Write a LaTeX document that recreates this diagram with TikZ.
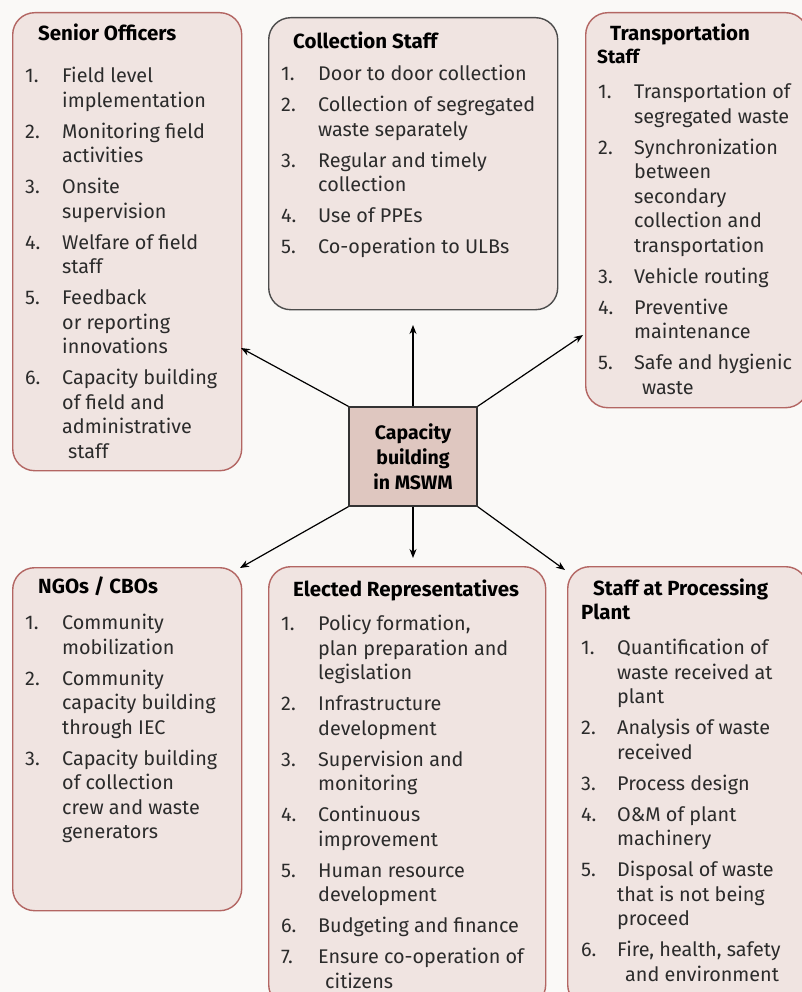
\documentclass[tikz,border=0pt]{standalone}
\usepackage{fontspec}
\setmainfont{Fira Sans}
\usetikzlibrary{arrows.meta}

\definecolor{boxfill}{HTML}{F0E4E1}
\definecolor{boxline}{HTML}{B36663}
\definecolor{hubfill}{HTML}{DFC7C0}
\definecolor{ink}{HTML}{2B2B2B}
\definecolor{paper}{HTML}{FAF9F7}

\tikzset{
  card/.style={draw=boxline, fill=boxfill, line width=1.4pt, rounded corners=22pt,
    anchor=north west, inner sep=0pt},
  hubbox/.style={draw=black!80, fill=hubfill, line width=1.4pt, inner sep=0pt,
    minimum width=128pt, minimum height=99pt, align=center,
    font=\fontsize{19.5}{25}\selectfont\bfseries},
  head/.style={anchor=base west, inner sep=0pt, font=\fontsize{20.5}{24}\selectfont\bfseries},
  items/.style={anchor=north west, inner sep=0pt, text=ink, font=\fontsize{19.8}{24.5}\selectfont},
  link/.style={-{Stealth[length=9pt,width=7pt]}, line width=1.2pt}
}
\newcommand{\itemgap}{\\[6.5pt]}

\begin{document}
\begin{tikzpicture}[x=1pt,y=-1pt]
  \fill[paper] (0,0) rectangle (802,992);
  \useasboundingbox (0,0) rectangle (802,992);

  % boxes
  \node[card, minimum width=229pt, minimum height=458pt] (senior) at (12,12) {};
  \node[card, draw=black!70, minimum width=289pt, minimum height=292pt] (collection) at (268,17) {};
  \node[card, minimum width=222pt, minimum height=395pt] (transport) at (585,12) {};
  \node[card, minimum width=229pt, minimum height=343pt] (ngo) at (12,567) {};
  \node[card, minimum width=277pt, minimum height=440pt] (elected) at (268,566) {};
  \node[card, minimum width=240pt, minimum height=440pt] (plant) at (567,566) {};
  \node[hubbox] (hub) at (413,456.5) {Capacity\\building\\in MSWM};

  % headings
  \node[head] (seniorhead) at (38,41) {Senior Officers};
  \node[head] (collectionhead) at (293,48.5) {Collection Staff};
  \node[head] (transporthead) at (610,41) {Transportation};
  \node[head, font=\fontsize{19}{24}\selectfont\bfseries] (transporthead2) at (597,63.5) {Staff};
  \node[head] (ngohead) at (38,593.5) {NGOs / CBOs};
  \node[head] (electedhead) at (293,596.5) {Elected Representatives};
  \node[head] (planthead) at (593,595.5) {Staff at Processing};
  \node[head] (planthead2) at (581,619.5) {Plant};

  % lists
  \node[items] (seniorlist) at (25,65.5) {\begin{tabular}{@{}p{37pt}@{}l@{}}
    1. & Field level\\ & implementation\itemgap
    2. & Monitoring field\\ & activities\itemgap
    3. & Onsite\\ & supervision\itemgap
    4. & Welfare of field\\ & staff\itemgap
    5. & Feedback\\ & or reporting\\ & innovations\itemgap
    6. & Capacity building\\ & of field and\\ & administrative\\ & \hspace{6pt}staff
  \end{tabular}};
  \node[items] (collectionlist) at (281,63.5) {\begin{tabular}{@{}p{37pt}@{}l@{}}
    1. & Door to door collection\itemgap
    2. & Collection of segregated\\ & waste separately\itemgap
    3. & Regular and timely\\ & collection\itemgap
    4. & Use of PPEs\itemgap
    5. & Co-operation to ULBs
  \end{tabular}};
  \node[items] (transportlist) at (598,81.5) {\begin{tabular}{@{}p{36pt}@{}l@{}}
    1. & Transportation of\\ & segregated waste\itemgap
    2. & Synchronization\\ & between\\ & secondary\\ & collection and\\ & transportation\itemgap
    3. & Vehicle routing\itemgap
    4. & Preventive\\ & maintenance\itemgap
    5. & Safe and hygienic\\ & \hspace{8pt}waste
  \end{tabular}};
  \node[items] (ngolist) at (25,612.5) {\begin{tabular}{@{}p{37pt}@{}l@{}}
    1. & Community\\ & mobilization\itemgap
    2. & Community\\ & capacity building\\ & through IEC\itemgap
    3. & Capacity building\\ & of collection\\ & crew and waste\\ & generators
  \end{tabular}};
  \node[items] (electedlist) at (281,613.5) {\begin{tabular}{@{}p{37pt}@{}l@{}}
    1. & Policy formation,\\ & plan preparation and\\ & legislation\itemgap
    2. & Infrastructure\\ & development\itemgap
    3. & Supervision and\\ & monitoring\itemgap
    4. & Continuous\\ & improvement\itemgap
    5. & Human resource\\ & development\itemgap
    6. & Budgeting and finance\itemgap
    7. & Ensure co-operation of\\ & \hspace{7pt}citizens
  \end{tabular}};
  \node[items] (plantlist) at (581,637.5) {\begin{tabular}{@{}p{36pt}@{}l@{}}
    1. & Quantification of\\ & waste received at\\ & plant\itemgap
    2. & Analysis of waste\\ & received\itemgap
    3. & Process design\itemgap
    4. & O\&M of plant\\ & machinery\itemgap
    5. & Disposal of waste\\ & that is not being\\ & proceed\itemgap
    6. & Fire, health, safety\\ & \hspace{8pt}and environment
  \end{tabular}};

  % arrow ends
  \coordinate (toSenior) at (241,348);
  \coordinate (toCollection) at (413,325);
  \coordinate (toTransport) at (583,335);
  \coordinate (toNgo) at (240,568);
  \coordinate (toElected) at (413,558);
  \coordinate (toPlant) at (565,570);

  \draw[link] (hub.north west) -- (toSenior);
  \draw[link] (hub.north) -- (toCollection);
  \draw[link] (hub.north east) -- (toTransport);
  \draw[link] (hub.south west) -- (toNgo);
  \draw[link] (hub.south) -- (toElected);
  \draw[link] (hub.south east) -- (toPlant);
\end{tikzpicture}
\end{document}
